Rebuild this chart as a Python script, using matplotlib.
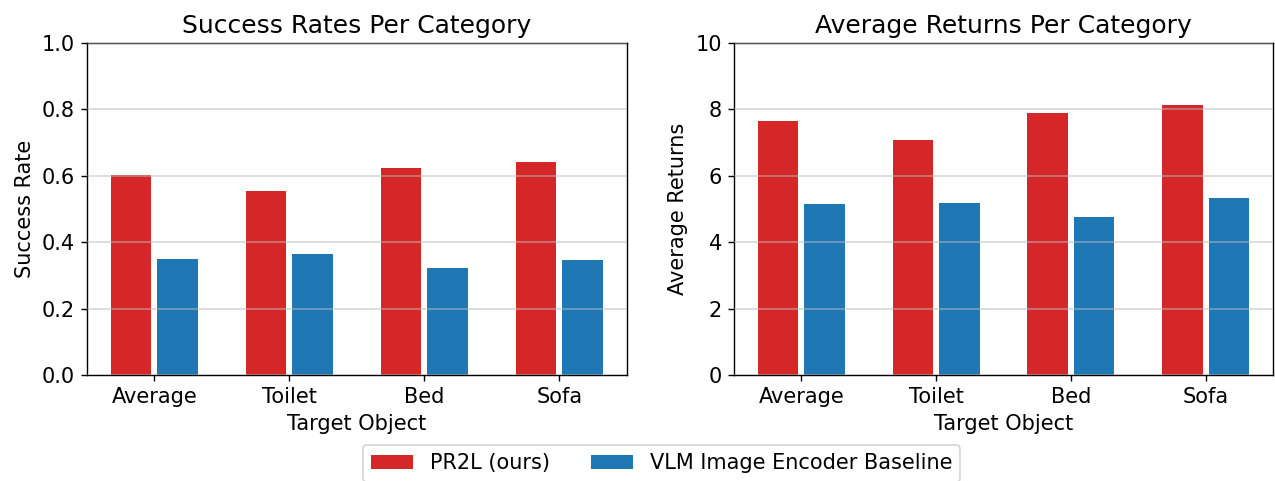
import numpy as np
from matplotlib import pyplot as plt

categories = ['Average', 'Toilet', 'Bed', 'Sofa']
series_names = ['PR2L (ours)', 'VLM Image Encoder Baseline']

success_pr2l = [0.603, 0.555, 0.624, 0.643]
success_vlm = [0.350, 0.365, 0.323, 0.347]

returns_pr2l = [7.64, 7.07, 7.88, 8.12]
returns_vlm = [5.14, 5.17, 4.75, 5.32]

red = '#d62728'
blue = '#1f77b4'

fig = plt.figure(figsize=(10.2, 3.848), dpi=125)
ax1 = fig.add_axes([0.0682, 0.2204, 0.4235, 0.690])
ax2 = fig.add_axes([0.5757, 0.2204, 0.4227, 0.690])

x = np.arange(len(categories))
width = 0.3
offset = 0.172


def draw_panel(ax, ours, base, title, ylabel, ylim, yticks, fmt):
    ax.bar(x - offset, ours, width, color=red, label=series_names[0], zorder=1)
    ax.bar(x + offset, base, width, color=blue, label=series_names[1], zorder=1)
    ax.set_xlim(-0.5, 3.5)
    ax.set_ylim(*ylim)
    ax.set_xticks(x)
    ax.set_xticklabels(categories)
    ax.set_yticks(yticks)
    ax.set_yticklabels([fmt.format(v) for v in yticks])
    ax.yaxis.grid(True, color='#bbbbbb', alpha=0.55, linewidth=1.0, zorder=2)
    ax.set_axisbelow(False)
    ax.tick_params(labelsize=12)
    ax.set_title(title, fontsize=14.4)
    ax.set_xlabel('Target Object', fontsize=12)
    ax.set_ylabel(ylabel, fontsize=12)


draw_panel(ax1, success_pr2l, success_vlm, 'Success Rates Per Category',
           'Success Rate', (0, 1.0), [0, 0.2, 0.4, 0.6, 0.8, 1.0], '{:.1f}')
draw_panel(ax2, returns_pr2l, returns_vlm, 'Average Returns Per Category',
           'Average Returns', (0, 10), [0, 2, 4, 6, 8, 10], '{:d}')

handles, labels = ax1.get_legend_handles_labels()
fig.legend(handles, labels, loc='upper center', bbox_to_anchor=(0.519, 0.0965),
           ncol=2, fontsize=12, frameon=True)

fig.savefig('out.png', dpi=125)
plt.close()
